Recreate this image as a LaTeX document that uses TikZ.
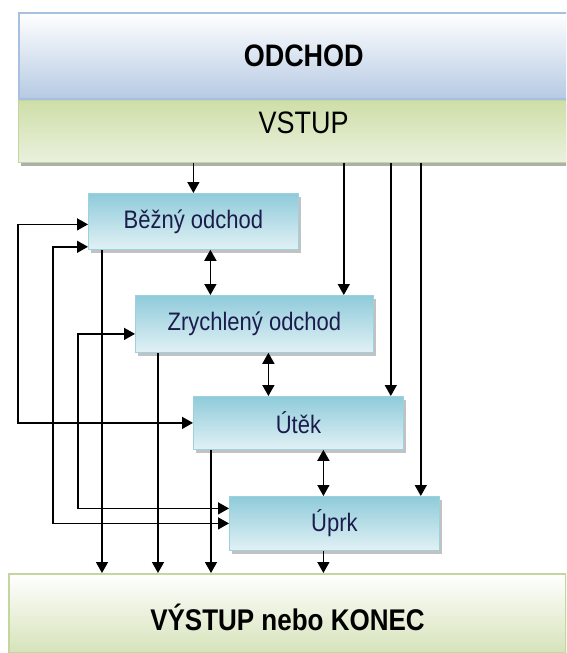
\documentclass[tikz,border=0pt]{standalone}
\usepackage{fontspec}
\setmainfont{Liberation Sans}
\usetikzlibrary{arrows.meta, shadows, positioning}
\definecolor{hdrline}{HTML}{A7C0E0}
\definecolor{hdrbot}{HTML}{B6CAE3}
\definecolor{grnline}{HTML}{C3D69B}
\definecolor{grntop}{HTML}{CEDEA8}
\definecolor{grnbot}{HTML}{EAF1DD}
\definecolor{outbot}{HTML}{D6E3BA}
\definecolor{blktop}{HTML}{8FCBDA}
\definecolor{blkbot}{HTML}{E1F1F5}
\definecolor{blkline}{HTML}{9ED1DE}
\definecolor{blktext}{HTML}{1C1C4C}
\newcommand{\tall}[1]{\scalebox{1}[1.15]{#1}}

\begin{document}
\begin{tikzpicture}[x=1pt, y=-1pt, >={Triangle[length=11pt,width=12pt]}, line width=1.5pt,
  blok/.style={draw=blkline, line width=.8pt, top color=blktop, bottom color=blkbot,
    minimum width=210pt, anchor=north west, inner sep=0pt, text=blktext,
    font=\fontsize{22}{26}\selectfont,
    drop shadow={shadow xshift=3pt, shadow yshift=-4pt, fill=black!40, opacity=.6}},
  pas/.style={anchor=north west, inner sep=0pt, minimum width=570pt}]
\useasboundingbox (0,0) rectangle (566,653);
\clip (0,0) rectangle (566,653);
\node[pas, draw=hdrline, line width=1.5pt, top color=white, bottom color=hdrbot,
  minimum height=86pt, font=\fontsize{27}{30}\selectfont\bfseries] (odchod) at (18,12) {\tall{ODCHOD}};
\node[pas, draw=grnline, line width=1.2pt, top color=grntop, bottom color=grnbot,
  minimum height=62pt, text height=11pt, text depth=6.6pt, font=\fontsize{27}{30}\selectfont,
  drop shadow={shadow xshift=2pt, shadow yshift=-4pt, fill=black!45, opacity=.7}]
  (vstup) at (odchod.south west) {\tall{VSTUP}};
\node[blok, minimum height=56pt] (bezny) at (88,193) {\tall{Běžný odchod}};
\node[blok, minimum height=57pt, minimum width=238pt] (zrychleny) at (135,295) {\tall{Zrychlený odchod}};
\node[blok, minimum height=53pt] (utek) at (193,396) {\tall{Útěk}};
\node[blok, minimum height=54pt] (uprk) at (229,496) {\tall{Úprk}};
\node[anchor=north west, inner sep=0pt, draw=grnline, line width=2pt, top color=white,
  bottom color=outbot, minimum width=557pt, minimum height=79pt, text height=34pt, text depth=0pt,
  font=\fontsize{26}{30}\selectfont\bfseries] (vystup) at (8,573) {\tall{VÝSTUP nebo KONEC}};

\coordinate (in1) at (bezny.north);
\coordinate (in2) at ([xshift=-30pt]zrychleny.north east);
\coordinate (in3) at ([xshift=-13pt]utek.north east);
\coordinate (in4) at ([xshift=-19pt]uprk.north east);
\foreach \c in {in1,in2,in3,in4}
  \draw[->] (vstup.south -| \c) -- (\c);

\coordinate (d1) at ([xshift=17pt]bezny.south);
\coordinate (d2) at ([xshift=14pt]zrychleny.south);
\coordinate (d3) at ([xshift=25pt]utek.south);
\draw[<->] (d1) -- (d1 |- zrychleny.north);
\draw[<->] (d2) -- (d2 |- utek.north);
\draw[<->] (d3) -- (d3 |- uprk.north);

\coordinate (o1) at ([xshift=14pt]bezny.south west);
\coordinate (o2) at ([xshift=23pt]zrychleny.south west);
\coordinate (o3) at ([xshift=18pt]utek.south west);
\coordinate (o4) at ([xshift=-11pt]uprk.south);
\foreach \c in {o1,o2,o3,o4}
  \draw[->] (\c) -- (\c |- vystup.north);

\draw[<->] ([yshift=-3pt]bezny.west) -- ++(-70,0) |- (utek.west);
\draw[<->] ([yshift=3pt]bezny.south west) -- ++(-35,0) |- (uprk.west);
\draw[<->] ([yshift=-10pt]zrychleny.west) -- ++(-57,0) |- ([yshift=15pt]uprk.west);
\end{tikzpicture}
\end{document}
